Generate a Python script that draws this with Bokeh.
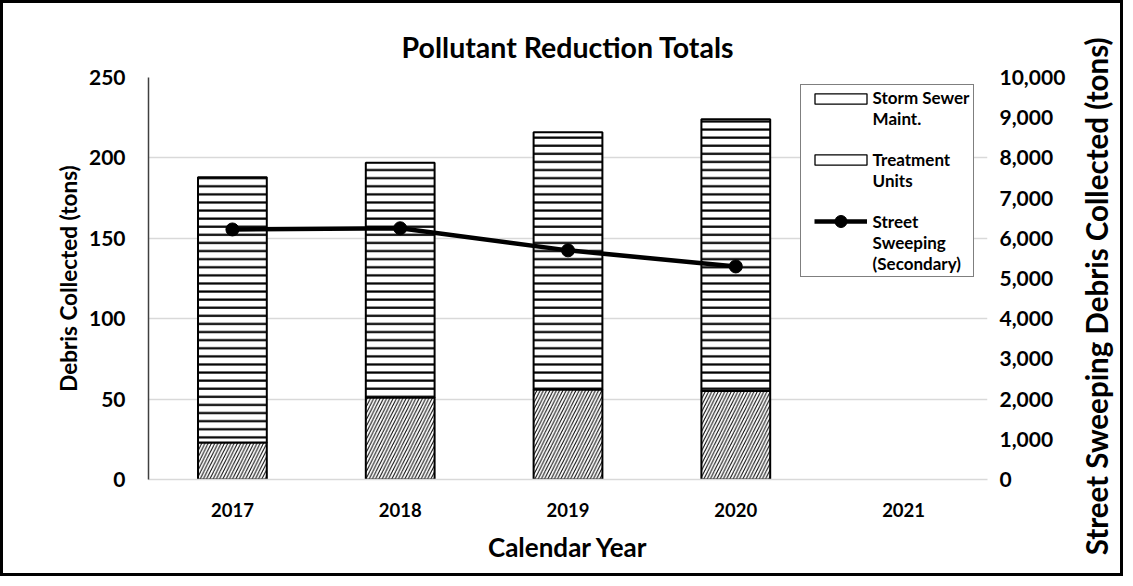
import math
import numpy as np
from bokeh.plotting import figure
from bokeh.layouts import row
from bokeh.models import (FactorRange, Range1d, LinearAxis, FixedTicker, NumeralTickFormatter,
                          ColumnDataSource, Legend, LegendItem)
from bokeh.embed import file_html
from bokeh.resources import INLINE

# ---- data ----
years = ["2017", "2018", "2019", "2020", "2021"]
bar_years = ["2017", "2018", "2019", "2020"]
treatment_units = [23, 51, 56, 55]
storm_sewer_maint = [165, 146, 160, 169]
sweep_years = ["2017", "2018", "2019", "2020"]
street_sweeping = [6220, 6250, 5700, 5300]
left_ticks = [0, 50, 100, 150, 200, 250]
right_ticks = [0, 1000, 2000, 3000, 4000, 5000, 6000, 7000, 8000, 9000, 10000]
right_title = "Street Sweeping Debris Collected (tons)"

FONT = "Lato"

W, H = 1117, 570
W1 = 1072                      # main chart; the rest holds the right-hand title
FL, FR, FT, FB = 145, 984, 74, 476   # frame edges on canvas
p = figure(width=W1, height=H, x_range=FactorRange(*years, range_padding=0),
           y_range=Range1d(0, 250), output_backend="svg", toolbar_location=None,
           min_border_left=FL, min_border_right=W1 - FR, min_border_top=FT,
           min_border_bottom=H - FB)
p.outline_line_color = None
p.background_fill_color = "white"
p.border_fill_color = "white"

p.title.text = "Pollutant Reduction Totals"
p.title.align = "center"
p.title.text_font = FONT
p.title.text_font_style = "bold"
p.title.text_font_size = "28.5px"
p.title.text_color = "black"
p.title.standoff = 28

src = ColumnDataSource(dict(year=bar_years, treat=treatment_units, storm=storm_sewer_maint))
p.vbar_stack(["treat", "storm"], x="year", width=0.41, source=src,
             fill_color="white", line_color="black", line_width=2,
             hatch_color="black",
             hatch_pattern=["right_diagonal_line", "horizontal_line"],
             hatch_scale=[6.5, 8.1], hatch_weight=[1.0, 2.2])

p.extra_y_ranges = {"right": Range1d(0, 10000)}
line_src = ColumnDataSource(dict(year=sweep_years, val=street_sweeping))
ln = p.line(x="year", y="val", source=line_src, y_range_name="right",
            line_color="black", line_width=4.5)
pt = p.scatter(x="year", y="val", source=line_src, y_range_name="right",
               size=13, fill_color="black", line_color="black")

# legend helper renderers (NaN data: nothing is drawn in the plot)
hid = ColumnDataSource(dict(year=["2021"], lo=np.array([np.nan]), hi=np.array([np.nan])))
box_r = p.vbar(x="year", bottom="lo", top="hi", width=0.4, source=hid,
               fill_color="white", line_color="black", line_width=1.3)
box_r2 = p.vbar(x="year", bottom="lo", top="hi", width=0.4, source=hid,
                fill_color="white", line_color="black", line_width=1.3)
blank_r = p.vbar(x="year", bottom="lo", top="hi", width=0.4, source=hid,
                 fill_alpha=0, line_alpha=0)

# axes
p.xgrid.grid_line_color = None
p.ygrid.grid_line_color = "#d9d9d9"
p.ygrid.grid_line_width = 1.5
p.yaxis.ticker = FixedTicker(ticks=left_ticks)

right = LinearAxis(y_range_name="right", ticker=FixedTicker(ticks=right_ticks),
                   formatter=NumeralTickFormatter(format="0,0"))
p.add_layout(right, "right")

for ax in [p.xaxis[0], p.yaxis[0], right]:
    ax.major_label_text_font = FONT
    ax.major_label_text_font_style = "bold"
    ax.major_label_text_color = "black"
    ax.axis_label_text_font = FONT
    ax.axis_label_text_font_style = "bold"
    ax.axis_label_text_color = "black"
    ax.major_tick_line_color = None
    ax.minor_tick_line_color = None

yl = p.yaxis[0]
yl.axis_label = "Debris Collected (tons)"
yl.major_label_text_font_size = "21px"
yl.axis_label_text_font_size = "22.5px"
yl.axis_line_color = "#404040"
yl.axis_line_width = 1.5
yl.major_label_standoff = 17
yl.axis_label_standoff = 4

right.major_label_text_font_size = "21px"
right.axis_line_color = None
right.major_label_standoff = 6

xa = p.xaxis[0]
xa.axis_label = "Calendar Year"
xa.major_label_text_font_size = "18.5px"
xa.axis_label_text_font_size = "26px"
xa.axis_line_color = "#d9d9d9"
xa.axis_line_width = 1.5
xa.major_label_standoff = 17
xa.axis_label_standoff = 11

# main legend box with texts (glyphs drawn by the small legends below)
legend = Legend(items=[
    LegendItem(label="Storm Sewer\nMaint.", renderers=[blank_r]),
    LegendItem(label="Treatment\nUnits", renderers=[blank_r]),
    LegendItem(label="Street\nSweeping\n(Secondary)", renderers=[blank_r]),
], location=(796.6 - FL, 202))
legend.label_text_font = FONT
legend.label_text_font_style = "bold"
legend.label_text_font_size = "17px"
legend.label_text_color = "black"
legend.glyph_width = 64
legend.glyph_height = 11
legend.label_standoff = 6
legend.label_width = 98
legend.spacing = 20
legend.padding = 2
legend.margin = 0
legend.border_line_color = "black"
legend.border_line_width = 1.2
legend.background_fill_alpha = 1
p.add_layout(legend, "center")


def glyph_legend(renderers, cx_left, cy, gw, gh):
    lg = Legend(items=[LegendItem(label=" ", renderers=renderers)],
                location=(cx_left - FL, FB - (cy + gh / 2)))
    lg.glyph_width = gw
    lg.glyph_height = gh
    lg.label_height = gh
    lg.label_width = 0
    lg.label_standoff = 0
    lg.label_text_font_size = "1px"
    lg.padding = 0
    lg.margin = 0
    lg.spacing = 0
    lg.border_line_color = None
    lg.background_fill_alpha = 0
    p.add_layout(lg, "center")


glyph_legend([box_r2], 811.4 - 6.5, 95.3, 65, 13)
glyph_legend([box_r], 811.4 - 6.5, 156.6, 65, 13)
glyph_legend([ln, pt], 811.4, 217.9, 53, 30)

# narrow side panel carrying the right-hand title (reads bottom to top);
# a few trailing no-break spaces move the centred text a little lower
p2 = figure(width=W - W1, height=H, x_range=Range1d(0, 1), y_range=Range1d(0, 1),
            output_backend="svg", toolbar_location=None,
            min_border_left=0, min_border_right=0, min_border_top=FT,
            min_border_bottom=H - FB)
p2.outline_line_color = None
p2.border_fill_color = "white"
p2.background_fill_color = "white"
p2.grid.visible = False
p2.xaxis.visible = False
ya2 = p2.yaxis[0]
ya2.ticker = FixedTicker(ticks=[])
ya2.axis_line_color = None
ya2.major_tick_out = 0
ya2.major_tick_in = 0
ya2.major_label_standoff = 0
ya2.axis_label = right_title + "\u00a0" * 5
ya2.axis_label_standoff = 0
ya2.axis_label_text_font = FONT
ya2.axis_label_text_font_style = "bold"
ya2.axis_label_text_font_size = "29.5px"
ya2.axis_label_text_color = "black"

layout = row(p, p2, spacing=0, styles={"border": "3px solid black", "background": "white"})

open("out.html", "w").write(file_html(layout, INLINE))
